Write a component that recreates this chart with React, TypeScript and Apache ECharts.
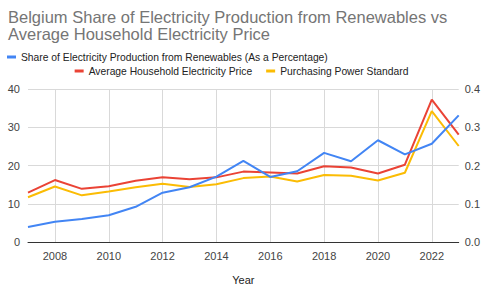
import React, { useEffect, useRef } from "react";
import * as echarts from "echarts";

const years = ["2007","2008","2009","2010","2011","2012","2013","2014","2015","2016","2017","2018","2019","2020","2021","2022","2023"];
const renewablesShare = [3.9, 5.3, 6.0, 7.0, 9.2, 12.9, 14.3, 17.1, 21.2, 17.0, 18.5, 23.3, 21.1, 26.6, 22.9, 25.7, 33.1];
const avgPrice = [0.129, 0.162, 0.139, 0.146, 0.160, 0.169, 0.164, 0.169, 0.184, 0.182, 0.179, 0.198, 0.195, 0.179, 0.202, 0.372, 0.281];
const pps = [0.117, 0.145, 0.122, 0.132, 0.143, 0.152, 0.144, 0.151, 0.167, 0.171, 0.158, 0.175, 0.173, 0.161, 0.181, 0.342, 0.251];
const leftTicks = [0, 10, 20, 30, 40];
const rightTicks = [0, 0.1, 0.2, 0.3, 0.4];

const FONT = "'Liberation Sans', Arial, sans-serif";

export default function App() {
  const ref = useRef<HTMLDivElement>(null);
  useEffect(() => {
    if (!ref.current) return;
    const chart = echarts.init(ref.current, undefined, { renderer: "svg" });
    const evenYear = (i: number) => i % 2 === 1;
    chart.setOption({
      animation: false,
      backgroundColor: "#ffffff",
      textStyle: { fontFamily: FONT },
      title: {
        text: "Belgium Share of Electricity Production from Renewables vs\nAverage Household Electricity Price",
        left: 3,
        top: 3,
        textStyle: { fontFamily: FONT, fontSize: 16.5, fontWeight: "normal", color: "#757575", lineHeight: 17 },
      },
      legend: [
        {
          data: ["Share of Electricity Production from Renewables (As a Percentage)"],
          left: 2,
          top: 47,
          itemWidth: 9,
          itemHeight: 3,
          itemGap: 14,
          icon: "rect",
          textStyle: { fontFamily: FONT, fontSize: 10.3, color: "#222" },
        },
        {
          data: ["Average Household Electricity Price", "Purchasing Power Standard"],
          left: "center",
          top: 61,
          itemWidth: 9,
          itemHeight: 3,
          itemGap: 14,
          icon: "rect",
          textStyle: { fontFamily: FONT, fontSize: 10.3, color: "#222" },
        },
      ],
      grid: { left: 28, right: 23, top: 89, bottom: 44, containLabel: false },
      xAxis: {
        type: "category",
        data: years,
        boundaryGap: false,
        name: "Year",
        nameLocation: "middle",
        nameGap: 32,
        nameTextStyle: { fontFamily: FONT, fontSize: 11, color: "#222" },
        axisLine: { lineStyle: { color: "#333", width: 1 } },
        axisTick: { show: false },
        axisLabel: { interval: (i: number) => evenYear(i), fontFamily: FONT, fontSize: 11, color: "#444", margin: 8 },
        splitLine: { show: true, interval: (i: number) => evenYear(i), lineStyle: { color: "#d9d9d9", width: 1 } },
      },
      yAxis: [
        {
          type: "value",
          min: leftTicks[0],
          max: leftTicks[leftTicks.length - 1],
          interval: 10,
          axisLine: { show: false },
          axisTick: { show: false },
          axisLabel: { fontFamily: FONT, fontSize: 11, color: "#444", margin: 8 },
          splitLine: { lineStyle: { color: "#d9d9d9", width: 1 } },
        },
        {
          type: "value",
          min: rightTicks[0],
          max: rightTicks[rightTicks.length - 1],
          interval: 0.1,
          axisLine: { show: false },
          axisTick: { show: false },
          axisLabel: { fontFamily: FONT, fontSize: 11, color: "#444", margin: 6, formatter: (v: number) => v.toFixed(1) },
          splitLine: { show: false },
        },
      ],
      series: [
        {
          name: "Share of Electricity Production from Renewables (As a Percentage)",
          type: "line",
          data: renewablesShare,
          yAxisIndex: 0,
          symbol: "none",
          color: "#4285F4",
          lineStyle: { width: 2 },
          z: 3,
        },
        {
          name: "Average Household Electricity Price",
          type: "line",
          data: avgPrice,
          yAxisIndex: 1,
          symbol: "none",
          color: "#EA4335",
          lineStyle: { width: 2 },
          z: 2,
        },
        {
          name: "Purchasing Power Standard",
          type: "line",
          data: pps,
          yAxisIndex: 1,
          symbol: "none",
          color: "#FBBC04",
          lineStyle: { width: 2 },
          z: 1,
        },
      ],
    });
    return () => chart.dispose();
  }, []);
  return <div ref={ref} style={{ width: 483, height: 290, position: "absolute", left: 0, top: 0 }} />;
}
